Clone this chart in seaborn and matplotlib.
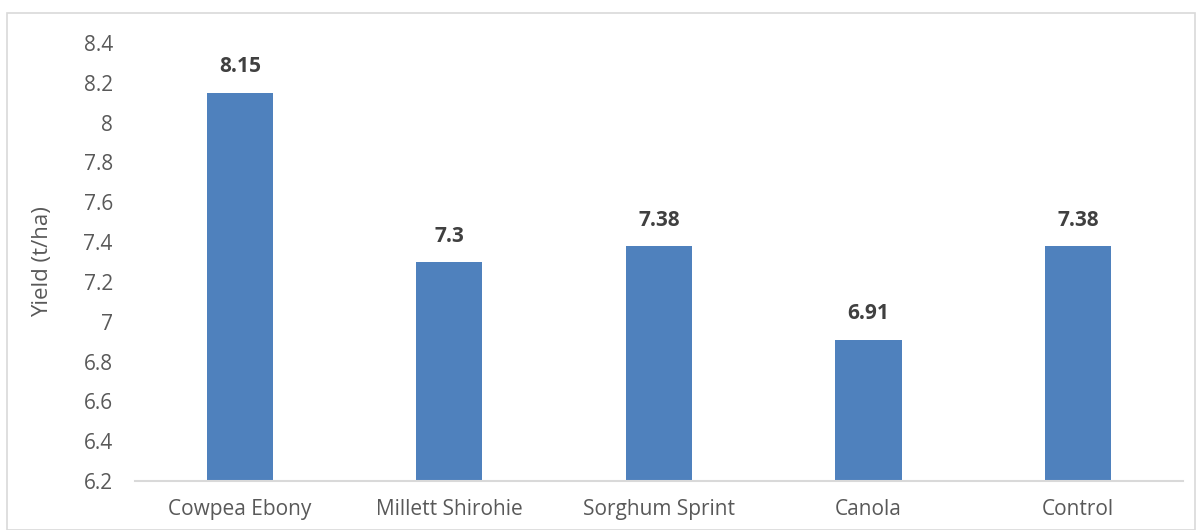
import pandas as pd
import seaborn as sns
import matplotlib.pyplot as plt
from matplotlib.patches import Rectangle

crops = ["Cowpea Ebony", "Millett Shirohie", "Sorghum Sprint", "Canola", "Control"]
yields = [8.15, 7.3, 7.38, 6.91, 7.38]
value_labels = ["8.15", "7.3", "7.38", "6.91", "7.38"]
y_ticks = [6.2, 6.4, 6.6, 6.8, 7, 7.2, 7.4, 7.6, 7.8, 8, 8.2, 8.4]
y_tick_labels = ["6.2", "6.4", "6.6", "6.8", "7", "7.2", "7.4", "7.6", "7.8", "8", "8.2", "8.4"]

df = pd.DataFrame({"crop": crops, "yield": yields})

sns.set_style("white")
plt.rcParams["font.family"] = ["Open Sans", "DejaVu Sans"]

fig = plt.figure(figsize=(11.96, 5.3), dpi=100)
ax = fig.add_axes([0.1129, 0.0925, 0.8761, 0.8265])

sns.barplot(data=df, x="crop", y="yield", color="#4f81bd", width=0.315,
            saturation=1, ax=ax)

# bars start at the axis floor, not at zero
for patch, v in zip(ax.patches, yields):
    patch.set_y(6.2)
    patch.set_height(v - 6.2)
    patch.set_edgecolor("none")

for i, (v, lab) in enumerate(zip(yields, value_labels)):
    ax.annotate(lab, (i, v), xytext=(0, 11), textcoords="offset points",
                ha="center", va="bottom", fontsize=15, fontweight="bold",
                color="#404040")

ax.set_ylim(6.2, 8.4)
ax.set_xlim(-0.5, 4.5)
ax.set_yticks(y_ticks)
ax.set_yticklabels(y_tick_labels)
ax.set_xlabel("")
ax.set_ylabel("Yield (t/ha)", fontsize=16, color="#595959", labelpad=22)
ax.tick_params(axis="both", length=0, labelsize=15, labelcolor="#595959")
ax.tick_params(axis="y", pad=16)
ax.tick_params(axis="x", pad=13)

for side in ["top", "right", "left"]:
    ax.spines[side].set_visible(False)
ax.spines["bottom"].set_color("#d9d9d9")
ax.spines["bottom"].set_linewidth(1.5)

fig.patches.append(Rectangle((7 / 1196, 0), 1 - 8 / 1196, 1 - 13 / 530,
                             transform=fig.transFigure, fill=False,
                             edgecolor="#d9d9d9", linewidth=1.2))

plt.savefig("out.png", dpi=100)
